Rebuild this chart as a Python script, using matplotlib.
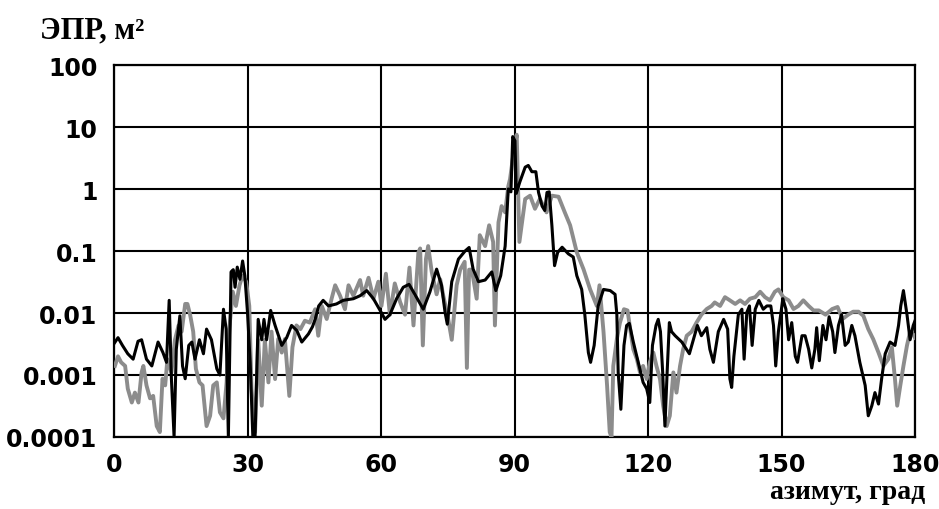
import matplotlib
matplotlib.use("Agg")
import matplotlib.pyplot as plt
from matplotlib.ticker import FixedLocator, FixedFormatter

# ---- data (azimuth in degrees, RCS in m^2) ----
black_az = [0, 0.9, 1.9, 3.1, 4.3, 5.4, 6.2, 7.3, 8.5, 9.9, 11.0, 11.8, 12.4, 12.9, 13.5,
            14.0, 14.8, 15.4, 16.0, 16.8, 17.5, 18.2, 19.2, 20.1, 20.8, 21.9, 23.1, 23.8,
            24.6, 25.2, 25.7, 26.3, 26.8, 27.2, 27.7, 28.3, 28.9, 29.4, 30.0, 30.6, 31.2,
            31.7, 32.4, 33.2, 33.7, 34.3, 35.2, 36.2, 37.7, 38.8, 39.9, 41.1, 42.2, 43.7,
            44.6, 45.2, 46.0, 47.0, 48.2, 50.0, 51.5, 53.8, 55.3, 56.8, 58.3, 59.8, 60.9,
            62.0, 63.5, 65.0, 66.3, 67.6, 69.5, 71.0, 72.5, 73.6, 74.4, 74.9, 75.9, 77.4,
            78.9, 79.8, 80.7, 81.9, 83.4, 84.9, 85.8, 86.9, 87.9, 88.6, 89.2, 89.6, 90.1,
            90.4, 91.2, 92.4, 93.1, 93.9, 94.8, 95.4, 96.2, 96.8, 97.3, 97.8, 98.4, 99.0,
            99.7, 100.7, 102.1, 103.2, 104.0, 105.1, 105.8, 106.6, 107.1, 107.9, 108.8,
            110.0, 111.5, 112.6, 113.0, 113.3, 113.9, 114.6, 115.2, 115.8, 116.7, 117.8,
            118.9, 119.7, 120.4, 121.0, 121.8, 122.3, 122.8, 123.3, 123.8, 124.3, 124.8,
            125.3, 126.1, 127.6, 129.3, 130.2, 131.1, 132.0, 133.2, 133.9, 134.7, 135.8,
            137.0, 137.9, 138.4, 138.8, 139.3, 140.3, 141.1, 141.6, 142.2, 142.8, 143.4,
            144.1, 144.9, 145.9, 146.7, 147.6, 148.2, 148.7, 149.3, 150.3, 151.0, 151.6,
            152.3, 153.1, 153.6, 154.6, 155.3, 156.1, 156.8, 157.5, 157.9, 158.5, 159.3,
            160.0, 160.7, 161.5, 162.0, 162.8, 163.5, 164.3, 165.0, 165.8, 166.5, 167.6,
            168.8, 169.5, 170.3, 171.0, 171.8, 172.5, 173.3, 174.4, 175.5, 176.3, 176.8,
            177.4, 178.2, 178.9, 179.6, 180.0]
black_rcs = [0.0032, 0.004, 0.003, 0.0022, 0.0018, 0.0035, 0.0037, 0.0018, 0.0014, 0.0034,
             0.0023, 0.0016, 0.016, 0.00087, 0.0001, 0.0026, 0.009, 0.0014, 0.00087, 0.003,
             0.0034, 0.0018, 0.0037, 0.0022, 0.0055, 0.0037, 0.00126, 0.001, 0.0115, 0.0055,
             0.0001, 0.046, 0.05, 0.026, 0.055, 0.035, 0.069, 0.04, 0.0102, 0.0016, 0.0001,
             0.0001, 0.0079, 0.0037, 0.0079, 0.0037, 0.011, 0.0063, 0.003, 0.004, 0.0063,
             0.0052, 0.0034, 0.0046, 0.006, 0.0079, 0.013, 0.016, 0.013, 0.014, 0.016, 0.017,
             0.019, 0.023, 0.017, 0.011, 0.0079, 0.0094, 0.017, 0.026, 0.029, 0.02, 0.0115,
             0.022, 0.051, 0.028, 0.0102, 0.0066, 0.032, 0.074, 0.1, 0.114, 0.051, 0.032,
             0.034, 0.046, 0.023, 0.04, 0.12, 1.0, 0.9, 7.0, 6.0, 0.85, 1.3, 2.25, 2.4, 1.9,
             1.9, 0.88, 0.53, 0.45, 0.88, 0.9, 0.26, 0.058, 0.095, 0.115, 0.09, 0.08, 0.04,
             0.024, 0.0094, 0.0023, 0.0016, 0.003, 0.013, 0.024, 0.023, 0.02, 0.0094, 0.0011,
             0.00028, 0.003, 0.0063, 0.0068, 0.0034, 0.0016, 0.00076, 0.0006, 0.00036, 0.003,
             0.0063, 0.0079, 0.005, 0.0011, 0.00015, 0.0011, 0.007, 0.005, 0.0043, 0.0034,
             0.0022, 0.0037, 0.0063, 0.0043, 0.0058, 0.0026, 0.0016, 0.005, 0.0079, 0.0055,
             0.00087, 0.00063, 0.002, 0.0094, 0.0115, 0.0018, 0.0102, 0.013, 0.003, 0.0115,
             0.016, 0.0115, 0.013, 0.013, 0.0063, 0.0014, 0.005, 0.017, 0.0115, 0.0037, 0.007,
             0.002, 0.0016, 0.0043, 0.0043, 0.0026, 0.0013, 0.0026, 0.0058, 0.0017, 0.0063,
             0.0037, 0.0087, 0.005, 0.0023, 0.0063, 0.0094, 0.003, 0.0034, 0.0063, 0.0043,
             0.0016, 0.00068, 0.00022, 0.00032, 0.00052, 0.00034, 0.00087, 0.0022, 0.0034,
             0.003, 0.0063, 0.013, 0.023, 0.0094, 0.0037, 0.0063, 0.0075]

gray_az = [0.2, 0.9, 1.6, 2.5, 3.1, 4.0, 4.7, 5.5, 6.2, 6.6, 7.3, 8.1, 8.8, 9.6, 10.3, 10.9,
           11.5, 12.0, 12.9, 13.7, 14.5, 15.2, 16.0, 16.5, 17.1, 17.8, 18.4, 19.2, 19.9, 20.8,
           21.6, 22.3, 23.1, 23.8, 24.6, 25.3, 25.9, 26.7, 27.4, 28.2, 28.9, 29.7, 30.4, 30.9,
           31.7, 32.4, 33.2, 33.9, 34.7, 35.4, 36.2, 36.9, 37.7, 38.4, 39.4, 40.1, 41.0, 41.9,
           42.9, 44.0, 45.2, 45.9, 46.7, 47.8, 48.9, 49.7, 50.8, 51.9, 52.7, 53.8, 55.3, 56.0,
           57.2, 58.3, 59.4, 60.1, 61.1, 62.0, 63.1, 64.3, 65.4, 66.4, 67.3, 68.4, 68.8, 69.4,
           70.1, 70.6, 71.4, 72.5, 73.3, 74.0, 75.1, 75.9, 77.0, 77.8, 78.8, 79.3, 79.8, 80.4,
           81.5, 82.2, 83.4, 84.3, 85.2, 85.6, 86.4, 87.1, 87.9, 88.6, 89.0, 89.8, 90.5, 91.1,
           91.6, 92.4, 93.5, 94.6, 95.7, 97.2, 98.4, 99.9, 101.3, 102.5, 104.0, 105.5, 107.0,
           108.5, 109.1, 110.0, 110.8, 111.4, 111.8, 112.2, 113.0, 113.7, 114.6, 115.4, 116.0,
           116.7, 117.5, 118.2, 118.9, 119.7, 120.4, 121.2, 121.9, 122.7, 123.4, 124.2, 124.9,
           125.7, 126.4, 127.2, 127.9, 128.7, 129.8, 130.9, 132.0, 133.2, 134.3, 135.0, 136.2,
           137.3, 138.4, 139.6, 140.7, 141.8, 142.9, 144.1, 145.2, 146.3, 147.4, 148.5, 149.3,
           150.4, 151.6, 152.7, 153.8, 154.9, 156.1, 157.2, 158.4, 159.9, 161.4, 162.6, 163.7,
           165.0, 166.1, 167.3, 168.4, 169.5, 170.6, 171.8, 172.9, 174.0, 174.8, 175.5, 176.0,
           176.7, 177.4, 178.2, 178.9, 179.6, 180.0]
gray_rcs = [0.0014, 0.002, 0.0016, 0.0014, 0.0006, 0.00036, 0.00052, 0.00036, 0.0011, 0.0014,
            0.00068, 0.00042, 0.00046, 0.00015, 0.00012, 0.00087, 0.00068, 0.0018, 0.0011,
            0.0037, 0.0063, 0.005, 0.014, 0.014, 0.0094, 0.005, 0.00126, 0.00076, 0.00068,
            0.00015, 0.00022, 0.00068, 0.00076, 0.00025, 0.0002, 0.00076, 0.0055, 0.022, 0.013,
            0.028, 0.04, 0.032, 0.013, 0.0006, 0.00012, 0.0037, 0.00032, 0.0037, 0.00076, 0.005,
            0.00086, 0.0038, 0.0023, 0.0038, 0.00046, 0.0028, 0.0063, 0.0055, 0.0075, 0.007,
            0.0115, 0.0043, 0.013, 0.008, 0.017, 0.028, 0.019, 0.0115, 0.028, 0.019, 0.034,
            0.019, 0.037, 0.017, 0.032, 0.013, 0.043, 0.0094, 0.03, 0.015, 0.0094, 0.054, 0.0063,
            0.095, 0.11, 0.003, 0.074, 0.12, 0.046, 0.02, 0.035, 0.019, 0.008, 0.0037, 0.028,
            0.05, 0.067, 0.0013, 0.05, 0.05, 0.017, 0.18, 0.12, 0.26, 0.14, 0.0063, 0.29, 0.53,
            0.42, 1.1, 1.45, 3.9, 7.5, 0.14, 0.26, 0.69, 0.78, 0.48, 0.69, 0.42, 0.78, 0.75,
            0.42, 0.26, 0.095, 0.051, 0.024, 0.013, 0.028, 0.005, 0.00068, 0.00012, 0.0001,
            0.0014, 0.0038, 0.007, 0.0115, 0.011, 0.0055, 0.0026, 0.0018, 0.0011, 0.0014,
            0.00086, 0.0016, 0.0023, 0.0014, 0.00086, 0.00032, 0.00015, 0.00022, 0.0011,
            0.00052, 0.0014, 0.0026, 0.0043, 0.005, 0.007, 0.0094, 0.0116, 0.013, 0.0148,
            0.013, 0.018, 0.016, 0.014, 0.016, 0.014, 0.017, 0.018, 0.022, 0.018, 0.016, 0.022,
            0.024, 0.018, 0.016, 0.0116, 0.013, 0.016, 0.013, 0.011, 0.011, 0.0094, 0.0116,
            0.0125, 0.008, 0.0094, 0.0105, 0.0105, 0.009, 0.0055, 0.0038, 0.0023, 0.0014,
            0.0018, 0.0028, 0.00086, 0.00032, 0.00068, 0.0014, 0.003, 0.005, 0.0045, 0.004]

x_ticks = [0, 30, 60, 90, 120, 150, 180]
y_ticks = [0.0001, 0.001, 0.01, 0.1, 1, 10, 100]
y_tick_labels = ["0.0001", "0.001", "0.01", "0.1", "1", "10", "100"]

# ---- figure ----
fig = plt.figure(figsize=(9.39, 5.10), dpi=100)
ax = fig.add_axes([114 / 939, 1 - 438 / 510, (915 - 114) / 939, (438 - 66) / 510])

ax.plot(gray_az, gray_rcs, color="#8c8c8c", lw=2.8, zorder=3)
ax.plot(black_az, black_rcs, color="black", lw=2.2, zorder=4)

ax.set_yscale("log")
ax.set_xlim(0, 180)
ax.set_ylim(0.0001, 100)
ax.xaxis.set_major_locator(FixedLocator(x_ticks))
ax.yaxis.set_major_locator(FixedLocator(y_ticks))
ax.yaxis.set_major_formatter(FixedFormatter(y_tick_labels))
ax.yaxis.set_minor_locator(FixedLocator([]))
ax.grid(True, which="major", color="black", lw=1.5, zorder=1)
ax.set_axisbelow(True)
for s in ax.spines.values():
    s.set_linewidth(1.6)
    s.set_color("black")
ax.tick_params(axis="both", which="both", length=0)
ax.tick_params(axis="y", pad=12)
ax.tick_params(axis="x", pad=11)
for lab in ax.get_xticklabels() + ax.get_yticklabels():
    lab.set_fontfamily("DejaVu Sans")
    lab.set_fontweight("bold")
    lab.set_fontsize(17)

fig.text(40 / 939, 1 - 38 / 510, "ЭПР, м²", fontfamily="Liberation Serif",
         fontweight="bold", fontsize=22, ha="left", va="baseline")
fig.text(925 / 939, 1 - 499 / 510, "азимут, град", fontfamily="Liberation Serif",
         fontweight="bold", fontsize=20, ha="right", va="baseline")

fig.savefig("out.png", dpi=100, facecolor="white")
